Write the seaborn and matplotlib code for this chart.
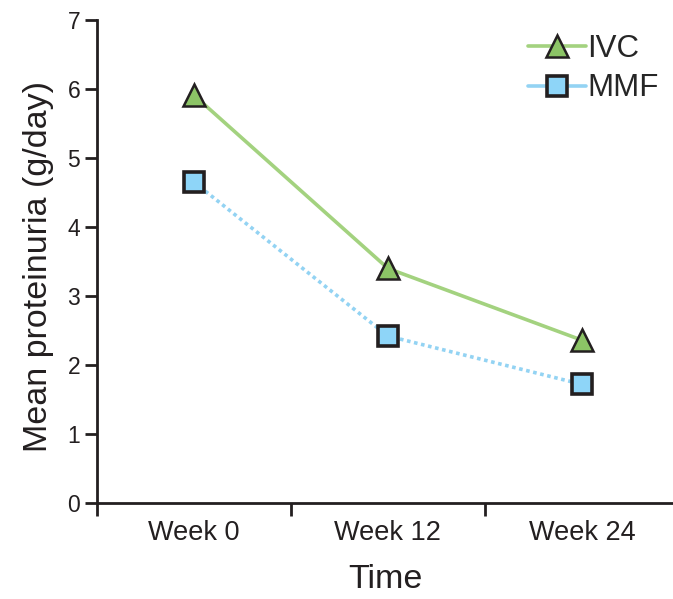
import matplotlib
matplotlib.use("Agg")
import matplotlib.pyplot as plt
import seaborn as sns
import pandas as pd
from matplotlib.lines import Line2D

weeks = ["Week 0", "Week 12", "Week 24"]
ivc = [5.91, 3.40, 2.36]
mmf = [4.65, 2.42, 1.72]
y_ticks = [0, 1, 2, 3, 4, 5, 6, 7]

sns.set_theme(style="white")
plt.rcParams["font.family"] = ["Liberation Sans", "DejaVu Sans"]

fig = plt.figure(figsize=(6.73, 5.99), dpi=100)
ax = fig.add_axes([97 / 673, 1 - 503 / 599, 1 - 97 / 673, (503 - 20) / 599])

df_ivc = pd.DataFrame({"Time": weeks, "val": ivc})
df_mmf = pd.DataFrame({"Time": weeks, "val": mmf})

green_line = "#a3d27f"
green_fill = "#8cc466"
blue_line = "#93d3f3"
blue_fill = "#8ed5f8"
edge = "#231f20"

sns.lineplot(data=df_mmf, x="Time", y="val", ax=ax, color=blue_line, lw=2.6,
             linestyle=(0, (1, 1)), marker="s", markersize=15,
             markerfacecolor=blue_fill, markeredgecolor=edge, markeredgewidth=2.6)
sns.lineplot(data=df_ivc, x="Time", y="val", ax=ax, color=green_line, lw=2.6,
             marker="^", markersize=16, markerfacecolor=green_fill,
             markeredgecolor=edge, markeredgewidth=1.8)

ax.set_ylim(0, 7)
ax.set_xlim(-0.5, 2.47)
ax.set_yticks(y_ticks)
ax.set_yticklabels([str(t) for t in y_ticks], fontsize=16.5, color="#231f20")
ax.set_xticks([0, 1, 2])
ax.set_xticklabels(weeks, fontsize=19.5, color="#231f20")
ax.set_xticks([-0.5, 0.5, 1.5], minor=True)
ax.tick_params(axis="x", which="major", length=0, pad=12)
ax.tick_params(axis="x", which="minor", length=9, width=2, color=edge, direction="out", bottom=True)
ax.tick_params(axis="y", which="major", length=9, width=2, color=edge, direction="out", left=True, pad=3)

for s in ["top", "right"]:
    ax.spines[s].set_visible(False)
for s in ["left", "bottom"]:
    ax.spines[s].set_color(edge)
    ax.spines[s].set_linewidth(2)

ax.set_xlabel("Time", fontsize=24.5, color="#231f20", labelpad=13)
ax.set_ylabel("Mean proteinuria (g/day)", fontsize=24.5, color="#231f20", labelpad=10, y=0.49)

handles = [
    Line2D([0], [0], color=green_line, lw=2.6, marker="^", markersize=16,
           markerfacecolor=green_fill, markeredgecolor=edge, markeredgewidth=1.8),
    Line2D([0], [0], color=blue_line, lw=2.6, marker="s", markersize=15,
           markerfacecolor=blue_fill, markeredgecolor=edge, markeredgewidth=2.6),
]
ax.legend(handles, ["IVC", "MMF"], loc="upper right", bbox_to_anchor=(1.0, 1.0),
          frameon=False, fontsize=22.5, handlelength=1.85, handletextpad=0.05,
          labelspacing=0.3, borderaxespad=0.05)

fig.savefig("out.png", dpi=100)
